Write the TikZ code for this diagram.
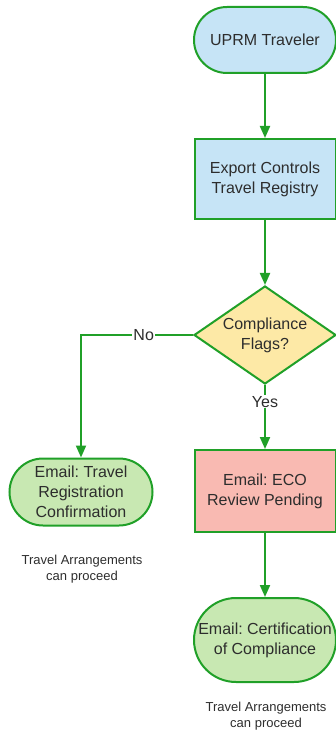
\documentclass[tikz,border=0pt]{standalone}
\usepackage{fontspec}
\setmainfont{Liberation Sans}
\frenchspacing
\usetikzlibrary{shapes.geometric,shapes.misc,arrows.meta,positioning}
\definecolor{linegreen}{RGB}{32,160,40}
\definecolor{bluefill}{RGB}{198,228,246}
\definecolor{greenfill}{RGB}{200,232,178}
\definecolor{yellowfill}{RGB}{253,233,166}
\definecolor{pinkfill}{RGB}{249,186,178}
\definecolor{textgray}{RGB}{45,45,45}

\begin{document}
\begin{tikzpicture}[x=1pt, y=-1pt, >={Triangle[length=12pt,width=10pt]},
    every node/.style={text=textgray, font=\fontsize{16}{20}\selectfont, align=center},
    term/.style={rounded rectangle, draw=linegreen, line width=2pt, minimum width=142pt, minimum height=66pt, inner sep=0pt},
    proc/.style={rectangle, draw=linegreen, line width=2pt, minimum width=141pt, minimum height=80pt, inner sep=0pt},
    decide/.style={diamond, draw=linegreen, line width=2pt, fill=yellowfill, aspect=1.45, minimum width=142pt, minimum height=98pt, inner sep=0pt},
    flow/.style={->, draw=linegreen, line width=2pt},
    lbl/.style={fill=white, inner sep=1pt},
    note/.style={font=\fontsize{13}{16}\selectfont}]
        \useasboundingbox (0,0) rectangle (335,733);
        \node[term, fill=bluefill] (start) at (265,40) {UPRM Traveler};
        \node[proc, fill=bluefill, below=64pt of start] (reg) {Export Controls\\Travel Registry};
        \node[decide, below=65pt of reg] (flag) {Compliance\\Flags?};
        \node[proc, fill=pinkfill, minimum height=82pt, below=64pt of flag] (eco) {Email: ECO\\Review Pending};
        \node[term, fill=greenfill, minimum height=84pt, below=64pt of eco] (cert) {Email: Certification\\of Compliance};
        \node[term, fill=greenfill, minimum width=143pt, minimum height=67pt] (conf) at (81,492) {Email: Travel\\Registration\\Confirmation};
        \node[note] (note1) at (82,569) {Travel Arrangements\\can proceed};
        \node[note] (note2) at (266,716) {Travel Arrangements\\can proceed};
        \draw[flow] (start)--(reg);
        \draw[flow] (reg)--(flag);
        \draw[flow] (flag) -- node[lbl, pos=0.26] {Yes} (eco);
        \draw[flow] (flag.west) -| node[lbl, pos=0.22] {No} (conf.north);
        \draw[flow] (eco)--(cert);
      \end{tikzpicture}
\end{document}
